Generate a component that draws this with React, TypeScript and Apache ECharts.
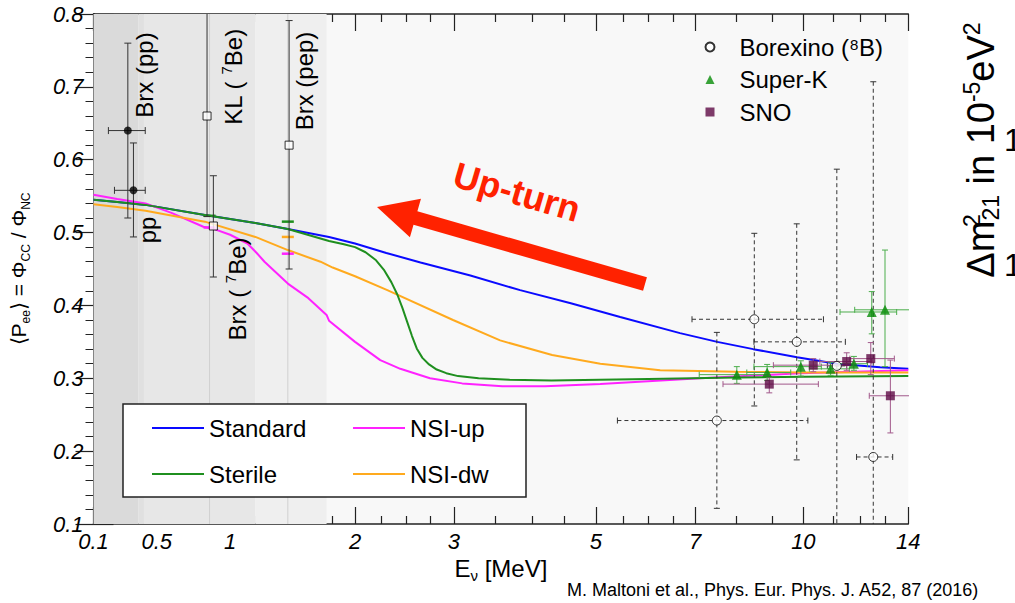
import React, { useEffect, useRef } from 'react';
import * as echarts from 'echarts';

const FONT = '"Liberation Sans", Arial, Helvetica, sans-serif';

// ---- axis scale definition: energy (MeV) knots and their axis coordinate ----
const scaleE = [0.1, 0.2, 0.3, 0.4, 0.5, 0.6, 0.7, 0.8, 0.9, 1, 1.2, 1.4, 1.6, 1.8, 2, 2.25, 2.5, 2.75, 3, 3.5, 4, 4.5, 5, 5.5, 6, 6.5, 7, 8, 9, 10, 11, 12, 13, 14];
const scaleU = [0, 15.7, 31.7, 47.3, 63.3, 78, 92.7, 107, 121.7, 136.7, 163.3, 189.3, 215, 239.3, 261.7, 288, 313, 336.7, 360.7, 401.7, 438.7, 471.3, 502.7, 530.3, 555.3, 579.7, 602, 643, 678.7, 710.3, 740.3, 767, 792, 815.3];
const majorTicksE = [0.1, 0.5, 1, 2, 3, 5, 7, 10, 14];
const yMin = 0.1;
const yMax = 0.8;

// ---- model curves [E (MeV), <Pee>] ----
const standardCurve: [number, number][] = [
  [0.1, 0.545], [0.25, 0.542], [0.43, 0.538], [0.83, 0.524], [1.19, 0.513], [1.44, 0.505], [1.77, 0.494],
  [2.0, 0.485], [2.3, 0.472], [2.65, 0.459], [3.2, 0.441], [3.84, 0.421], [4.6, 0.403], [5.44, 0.384],
  [6.66, 0.362], [7.54, 0.35], [8.48, 0.34], [9.8, 0.329], [11.12, 0.32], [12.8, 0.315], [14, 0.313],
];
const sterileCurve: [number, number][] = [
  [0.1, 0.545], [0.25, 0.542], [0.43, 0.538], [0.83, 0.524], [1.19, 0.513], [1.44, 0.505], [1.77, 0.4885],
  [1.9, 0.484], [2.0, 0.48], [2.1, 0.473], [2.2, 0.462], [2.28, 0.448], [2.35, 0.432], [2.41, 0.415],
  [2.46, 0.397], [2.51, 0.377], [2.56, 0.358], [2.61, 0.341], [2.67, 0.328], [2.74, 0.319], [2.82, 0.312],
  [2.92, 0.307], [3.05, 0.303], [3.3, 0.3], [3.7, 0.298], [4.3, 0.297], [6.0, 0.299], [8, 0.301],
  [10, 0.302], [14, 0.303],
];
const nsiUpCurve: [number, number][] = [
  [0.1, 0.552], [0.25, 0.546], [0.43, 0.54], [0.6, 0.527], [0.82, 0.508], [0.89, 0.505], [1.0, 0.497],
  [1.13, 0.485], [1.2, 0.472], [1.26, 0.46], [1.44, 0.43], [1.6, 0.41], [1.75, 0.387], [1.77, 0.379],
  [2.0, 0.35], [2.24, 0.325], [2.44, 0.313], [2.75, 0.3], [3.1, 0.293], [3.6, 0.289], [4.2, 0.289],
  [5.08, 0.292], [7.12, 0.3], [9.9, 0.307], [14, 0.311],
];
const nsiDwCurve: [number, number][] = [
  [0.1, 0.539], [0.25, 0.535], [0.43, 0.53], [0.83, 0.515], [1.19, 0.494], [1.44, 0.476], [1.7, 0.46],
  [1.8, 0.452], [2.0, 0.44], [2.31, 0.421], [2.99, 0.38], [3.57, 0.352], [4.31, 0.332], [5.08, 0.32],
  [6.24, 0.311], [8, 0.309], [10, 0.308], [14, 0.308],
];

// predicted averages at the 7Be and pep lines: [model, E, Pee]
const linePredictions: [string, number, number][] = [
  ['Sterile', 0.862, 0.523], ['NSI-up', 0.862, 0.507],
  ['Sterile', 1.44, 0.515], ['NSI-dw', 1.44, 0.494], ['NSI-up', 1.44, 0.471],
];

// ---- measurements: [E, Pee, Pee low, Pee high, E low, E high] ----
const borexinoPP: number[][] = [
  [0.317, 0.64, 0.52, 0.76, 0.195, 0.428],
  [0.353, 0.558, 0.494, 0.623, 0.233, 0.428],
];
const lowEOpen: number[][] = [
  [0.845, 0.66, 0.522, 0.95, 0.845, 0.845],
  [0.888, 0.509, 0.439, 0.578, 0.888, 0.888],
  [1.45, 0.62, 0.45, 0.791, 1.45, 1.45],
];
const borexino8B: number[][] = [
  [7.53, 0.242, 0.1215, 0.363, 5.39, 10.15],
  [8.51, 0.381, 0.262, 0.499, 6.93, 10.67],
  [9.79, 0.35, 0.188, 0.512, 8.5, 11.45],
  [11.13, 0.317, 0.0, 0.587, 10.8, 11.5],
  [12.53, 0.192, 0.0, 0.707, 11.87, 13.33],
];
const superK: number[][] = [
  [8.02, 0.305, 0.293, 0.316, 7.1, 8.9],
  [8.87, 0.308, 0.297, 0.319, 8.3, 9.6],
  [9.92, 0.316, 0.303, 0.324, 8.5, 10.6],
  [10.91, 0.313, 0.304, 0.322, 10.2, 11.6],
  [11.77, 0.32, 0.311, 0.33, 11.2, 12.3],
  [12.47, 0.391, 0.361, 0.419, 11.25, 13.5],
  [13.0, 0.394, 0.316, 0.476, 11.8, 14.2],
];
const sno: number[][] = [
  [8.93, 0.292, 0.28, 0.301, 7.68, 10.5],
  [10.33, 0.318, 0.309, 0.327, 9.05, 11.75],
  [11.5, 0.323, 0.311, 0.335, 10.55, 12.47],
  [12.43, 0.327, 0.305, 0.349, 11.62, 13.4],
  [13.23, 0.276, 0.225, 0.325, 12.37, 14.2],
];

// shaded energy regions [E low, E high] and source lines
const bandLo = [0.1, 0.384, 0.42, 1.19];
const bandHi = [0.384, 0.42, 1.19, 1.75];
const sourceLinesE = [0.862, 1.44];

// ---- styles ----
const bandColors = ['#dadada', '#e0e0e0', '#e7e7e7', '#efefef'];
const modelColors: Record<string, string> = {
  Standard: '#0a0aff',
  Sterile: '#1f8f1f',
  'NSI-up': '#ff22ff',
  'NSI-dw': '#ffaa1e',
};

function toU(e: number): number {
  const n = scaleE.length - 1;
  if (e <= scaleE[0]) return scaleU[0] + ((e - scaleE[0]) * (scaleU[1] - scaleU[0])) / (scaleE[1] - scaleE[0]);
  for (let i = 0; i < n; i++) {
    if (e <= scaleE[i + 1]) {
      const t = (e - scaleE[i]) / (scaleE[i + 1] - scaleE[i]);
      return scaleU[i] + t * (scaleU[i + 1] - scaleU[i]);
    }
  }
  return scaleU[n] + ((e - scaleE[n]) * (scaleU[n] - scaleU[n - 1])) / (scaleE[n] - scaleE[n - 1]);
}

const U_MAX = toU(14);
const minorTicksE = scaleE.filter((e) => !majorTicksE.includes(e));

function makeErrRender(color: string, dashed: boolean, cap: number) {
  return (_params: any, api: any) => {
    const x = api.value(0), y = api.value(1), lo = api.value(2), hi = api.value(3), xl = api.value(4), xh = api.value(5);
    const st: any = { stroke: color, lineWidth: 1 };
    if (dashed) st.lineDash = [4, 3];
    const cs: any = { stroke: color, lineWidth: 1 };
    const t = api.coord([x, hi]);
    const b = api.coord([x, lo]);
    const children: any[] = [
      { type: 'line', shape: { x1: t[0], y1: t[1], x2: b[0], y2: b[1] }, style: st },
      { type: 'line', shape: { x1: t[0] - cap, y1: t[1], x2: t[0] + cap, y2: t[1] }, style: cs },
      { type: 'line', shape: { x1: b[0] - cap, y1: b[1], x2: b[0] + cap, y2: b[1] }, style: cs },
    ];
    if (xh - xl > 0.01) {
      const l = api.coord([xl, y]);
      const r = api.coord([xh, y]);
      children.push({ type: 'line', shape: { x1: l[0], y1: l[1], x2: r[0], y2: r[1] }, style: st });
      children.push({ type: 'line', shape: { x1: l[0], y1: l[1] - cap, x2: l[0], y2: l[1] + cap }, style: cs });
      children.push({ type: 'line', shape: { x1: r[0], y1: r[1] - cap, x2: r[0], y2: r[1] + cap }, style: cs });
    }
    return { type: 'group', children };
  };
}

const toRows = (rows: number[][]) => rows.map((r) => [toU(r[0]), r[1], r[2], r[3], toU(r[4]), toU(r[5])]);
const toXY = (curve: [number, number][]) => curve.map((p) => [toU(p[0]), p[1]]);

function buildOption(): any {
  const axisLineStyle = { color: '#222', width: 1.5 };
  const tickLine = { color: '#222', width: 1.2 };
  const majorU = majorTicksE.map(toU);
  const minorU = minorTicksE.map(toU);
  const labelFor = (v: number) => {
    const i = majorU.findIndex((u) => Math.abs(u - v) < 0.05);
    return i >= 0 ? String(majorTicksE[i]) : '';
  };
  const baseX = { type: 'value', min: 0, max: U_MAX, gridIndex: 0, splitLine: { show: false } };

  const lineSeries = (name: string, curve: [number, number][]) => ({
    type: 'line',
    name,
    data: toXY(curve),
    color: modelColors[name],
    showSymbol: false,
    symbol: 'none',
    lineStyle: { color: modelColors[name], width: 2 },
    silent: true,
    z: 3,
  });

  const arrowTip = [377, 207];
  const arrowTail = [645, 284];
  const dx = arrowTip[0] - arrowTail[0], dy = arrowTip[1] - arrowTail[1];
  const len = Math.hypot(dx, dy);
  const ux = dx / len, uy = dy / len;
  const nx = uy, ny = -ux;
  const headLen = 40, headHalf = 20, shaftHalf = 7;
  const bx = arrowTip[0] - headLen * ux, by = arrowTip[1] - headLen * uy;
  const arrowPts = [
    arrowTip,
    [bx + headHalf * nx, by + headHalf * ny],
    [bx + shaftHalf * nx, by + shaftHalf * ny],
    [arrowTail[0] + shaftHalf * nx, arrowTail[1] + shaftHalf * ny],
    [arrowTail[0] - shaftHalf * nx, arrowTail[1] - shaftHalf * ny],
    [bx - shaftHalf * nx, by - shaftHalf * ny],
    [bx - headHalf * nx, by - headHalf * ny],
  ];

  const vText = (x: number, y: number, text: string, rich?: any) => ({
    type: 'text',
    x,
    y,
    rotation: Math.PI / 2,
    z: 12,
    silent: true,
    style: {
      text,
      font: `24px ${FONT}`,
      fill: '#000',
      align: 'center',
      verticalAlign: 'middle',
      textAlign: 'center',
      textVerticalAlign: 'middle',
      rich,
    },
  });
  const supRich = {
    n: { fontSize: 24, fontFamily: FONT, lineHeight: 28, color: '#000' },
    s: { fontSize: 15, fontFamily: FONT, lineHeight: 15, verticalAlign: 'top', color: '#000' },
  };

  return {
    animation: false,
    backgroundColor: '#ffffff',
    textStyle: { fontFamily: FONT },
    grid: { left: 93, right: 1015 - 93 - U_MAX, top: 14, bottom: 79, show: true, backgroundColor: '#f8f8f8', borderWidth: 0 },
    xAxis: [
      {
        ...baseX,
        position: 'bottom',
        axisLine: { show: true, lineStyle: axisLineStyle },
        axisTick: { show: true, inside: true, length: 17, customValues: majorU, lineStyle: tickLine },
        axisLabel: {
          show: true,
          customValues: majorU,
          formatter: labelFor,
          fontSize: 22,
          fontStyle: 'italic',
          fontFamily: FONT,
          color: '#000',
          margin: 6,
        },
        name: '{n|E}{s|ν}{n| [MeV]}',
        nameLocation: 'middle',
        nameGap: 30,
        nameTextStyle: {
          fontSize: 24,
          fontFamily: FONT,
          color: '#000',
          rich: {
            n: { fontSize: 24, fontFamily: FONT, lineHeight: 28, color: '#000' },
            s: { fontSize: 15, fontFamily: FONT, lineHeight: 15, verticalAlign: 'bottom', color: '#000' },
          },
        },
      },
      {
        ...baseX,
        position: 'bottom',
        axisLine: { show: false },
        axisTick: { show: true, inside: true, length: 8, customValues: minorU, lineStyle: tickLine },
        axisLabel: { show: false },
      },
      {
        ...baseX,
        position: 'top',
        axisLine: { show: true, lineStyle: axisLineStyle },
        axisTick: { show: true, inside: true, length: 17, customValues: majorU, lineStyle: tickLine },
        axisLabel: { show: false },
      },
      {
        ...baseX,
        position: 'top',
        axisLine: { show: false },
        axisTick: { show: true, inside: true, length: 8, customValues: minorU, lineStyle: tickLine },
        axisLabel: { show: false },
      },
    ],
    yAxis: [
      {
        type: 'value',
        position: 'left',
        min: yMin,
        max: yMax,
        interval: 0.1,
        splitLine: { show: false },
        axisLine: { show: true, lineStyle: axisLineStyle },
        axisTick: { show: true, inside: true, length: 20, lineStyle: tickLine },
        minorTick: { show: true, splitNumber: 5, length: 10, lineStyle: { color: '#222', width: 1 } },
        axisLabel: {
          formatter: (v: number) => v.toFixed(1),
          fontSize: 22,
          fontStyle: 'italic',
          fontFamily: FONT,
          color: '#000',
          margin: 10,
        },
        name: '{n|⟨P}{s|ee}{n|⟩ = Φ}{s|CC}{n| / Φ}{s|NC}',
        nameLocation: 'middle',
        nameGap: 62,
        nameTextStyle: {
          fontSize: 21,
          fontFamily: FONT,
          color: '#000',
          rich: {
            n: { fontSize: 21, fontFamily: FONT, lineHeight: 26, color: '#000' },
            s: { fontSize: 12, fontFamily: FONT, lineHeight: 12, verticalAlign: 'bottom', color: '#000' },
          },
        },
      },
      {
        type: 'value',
        position: 'right',
        min: yMin,
        max: yMax,
        interval: 0.1,
        splitLine: { show: false },
        axisLine: { show: true, lineStyle: axisLineStyle },
        axisTick: { show: true, inside: true, length: 18, lineStyle: tickLine },
        minorTick: { show: true, splitNumber: 5, length: 8, lineStyle: { color: '#222', width: 1 } },
        axisLabel: { show: false },
      },
    ],
    legend: [
      {
        data: ['Standard', 'NSI-up', 'Sterile', 'NSI-dw'],
        orient: 'horizontal',
        left: 152,
        top: 410.5,
        width: 400,
        padding: 0,
        itemGap: 11,
        itemWidth: 52,
        itemHeight: 2,
        icon: 'rect',
        selectedMode: false,
        z: 20,
        textStyle: { fontSize: 24, fontFamily: FONT, color: '#000', width: 133, lineHeight: 35 },
      },
      {
        data: ['Borexino (⁸B)', 'Super-K', 'SNO'],
        orient: 'vertical',
        left: 704.5,
        top: 35,
        padding: 0,
        itemGap: 8.5,
        itemWidth: 9,
        itemHeight: 9,
        selectedMode: false,
        z: 20,
        textStyle: { fontSize: 24, fontFamily: FONT, color: '#000', lineHeight: 24, padding: [0, 0, 0, 20] },
      },
    ],
    series: [
      {
        type: 'custom',
        name: 'regions',
        silent: true,
        z: 1,
        data: bandLo.map((lo, i) => [toU(lo), toU(bandHi[i])]),
        renderItem: (params: any, api: any) => {
          const p1 = api.coord([api.value(0), yMax]);
          const p2 = api.coord([api.value(1), yMin]);
          return {
            type: 'rect',
            shape: { x: p1[0], y: p1[1], width: p2[0] - p1[0], height: p2[1] - p1[1] },
            style: { fill: bandColors[params.dataIndex] },
          };
        },
      },
      {
        type: 'custom',
        name: 'source lines',
        silent: true,
        z: 1,
        data: sourceLinesE.map((e) => [toU(e), yMax]),
        renderItem: (_params: any, api: any) => {
          const p1 = api.coord([api.value(0), yMax]);
          const p2 = api.coord([api.value(0), yMin]);
          return { type: 'line', shape: { x1: p1[0], y1: p1[1], x2: p2[0], y2: p2[1] }, style: { stroke: '#d0d0d0', lineWidth: 1 } };
        },
      },
      lineSeries('Standard', standardCurve),
      lineSeries('NSI-up', nsiUpCurve),
      lineSeries('NSI-dw', nsiDwCurve),
      lineSeries('Sterile', sterileCurve),
      {
        type: 'custom',
        name: 'line predictions',
        silent: true,
        z: 4,
        data: linePredictions.map((p) => [toU(p[1]), p[2]]),
        renderItem: (params: any, api: any) => {
          const c = api.coord([api.value(0), api.value(1)]);
          return {
            type: 'line',
            shape: { x1: c[0] - 6, y1: c[1], x2: c[0] + 6, y2: c[1] },
            style: { stroke: modelColors[linePredictions[params.dataIndex][0]], lineWidth: 2.5 },
          };
        },
      },
      { type: 'custom', name: 'pp err', silent: true, clip: true, z: 5, data: toRows(borexinoPP), renderItem: makeErrRender('#333', false, 3.5) },
      { type: 'custom', name: 'be7 err', silent: true, clip: true, z: 5, data: toRows(lowEOpen), renderItem: makeErrRender('#333', false, 3.5) },
      { type: 'custom', name: 'b8 err', silent: true, clip: true, z: 5, data: toRows(borexino8B), renderItem: makeErrRender('#333', true, 3) },
      { type: 'custom', name: 'sk err', silent: true, clip: true, z: 5, data: toRows(superK), renderItem: makeErrRender('#4cae4c', false, 3) },
      { type: 'custom', name: 'sno err', silent: true, clip: true, z: 5, data: toRows(sno), renderItem: makeErrRender('#a2598b', false, 3) },
      {
        type: 'scatter', name: 'Borexino pp', silent: true, z: 6,
        data: borexinoPP.map((r) => [toU(r[0]), r[1]]), symbol: 'circle', symbolSize: 8,
        itemStyle: { color: '#000' },
      },
      {
        type: 'scatter', name: 'low energy', silent: true, z: 6,
        data: lowEOpen.map((r) => [toU(r[0]), r[1]]), symbol: 'rect', symbolSize: 8,
        itemStyle: { color: '#fff', borderColor: '#000', borderWidth: 1 },
      },
      {
        type: 'scatter', name: 'Borexino (⁸B)', silent: true, z: 6,
        data: borexino8B.map((r) => [toU(r[0]), r[1]]), symbol: 'circle', symbolSize: 9,
        itemStyle: { color: '#fff', borderColor: '#000', borderWidth: 1 },
      },
      {
        type: 'scatter', name: 'Super-K', silent: true, z: 6,
        data: superK.map((r) => [toU(r[0]), r[1]]), symbol: 'triangle', symbolSize: 10,
        itemStyle: { color: '#078c07' },
      },
      {
        type: 'scatter', name: 'SNO', silent: true, z: 6,
        data: sno.map((r) => [toU(r[0]), r[1]]), symbol: 'rect', symbolSize: 9,
        itemStyle: { color: '#5e0a45' },
      },
    ],
    graphic: [
      { type: 'rect', z: 10, silent: true, shape: { x: 123, y: 404, width: 403, height: 93 }, style: { fill: '#fff', stroke: '#222', lineWidth: 1.5 } },
      { type: 'polygon', z: 12, silent: true, shape: { points: arrowPts }, style: { fill: '#ff2200' } },
      {
        type: 'text', z: 12, silent: true, x: 517, y: 192, rotation: -0.285,
        style: { text: 'Up-turn', font: `bold 36px ${FONT}`, fill: '#ff2200', align: 'center', verticalAlign: 'middle', textAlign: 'center', textVerticalAlign: 'middle' },
      },
      vText(144, 75, 'Brx (pp)'),
      vText(233, 77, '{n|KL ( }{s|7}{n|Be)}', supRich),
      vText(304, 81, 'Brx (pep)'),
      vText(147, 230, 'pp'),
      vText(237, 289, '{n|Brx ( }{s|7}{n|Be)}', supRich),
      {
        type: 'text', z: 12, silent: true, x: 567, y: 590,
        style: { text: 'M. Maltoni et al., Phys. Eur. Phys. J. A52, 87 (2016)', font: `18px ${FONT}`, fill: '#000', align: 'left', verticalAlign: 'middle', textAlign: 'left', textVerticalAlign: 'middle' },
      },
      {
        type: 'text', z: 12, silent: true, x: 981, y: 150, rotation: Math.PI / 2,
        style: {
          text: '{n|Δm}{s0|2}{b|21}{n| in 10}{s|-5}{n|eV}{s|2}',
          font: `38px ${FONT}`,
          fill: '#000',
          align: 'center', verticalAlign: 'middle', textAlign: 'center', textVerticalAlign: 'middle',
          rich: {
            n: { fontSize: 38, fontFamily: FONT, lineHeight: 42, color: '#000' },
            s: { fontSize: 23, fontFamily: FONT, lineHeight: 23, verticalAlign: 'top', color: '#000' },
            s0: { fontSize: 23, fontFamily: FONT, lineHeight: 23, verticalAlign: 'top', color: '#000', width: 0 },
            b: { fontSize: 23, fontFamily: FONT, lineHeight: 23, verticalAlign: 'bottom', color: '#000' },
          },
        },
      },
      {
        type: 'text', z: 12, silent: true, x: 1004, y: 140,
        style: { text: '1', font: `32px ${FONT}`, fill: '#000', align: 'left', verticalAlign: 'middle', textAlign: 'left', textVerticalAlign: 'middle' },
      },
      {
        type: 'text', z: 12, silent: true, x: 1004, y: 265,
        style: { text: '1', font: `32px ${FONT}`, fill: '#000', align: 'left', verticalAlign: 'middle', textAlign: 'left', textVerticalAlign: 'middle' },
      },
    ],
  };
}

export default function App() {
  const ref = useRef<HTMLDivElement>(null);
  useEffect(() => {
    document.body.style.margin = '0';
    const chart = echarts.init(ref.current as HTMLDivElement, null, { renderer: 'svg' });
    chart.setOption(buildOption());
    return () => chart.dispose();
  }, []);
  return <div ref={ref} style={{ width: 1015, height: 603 }} />;
}
